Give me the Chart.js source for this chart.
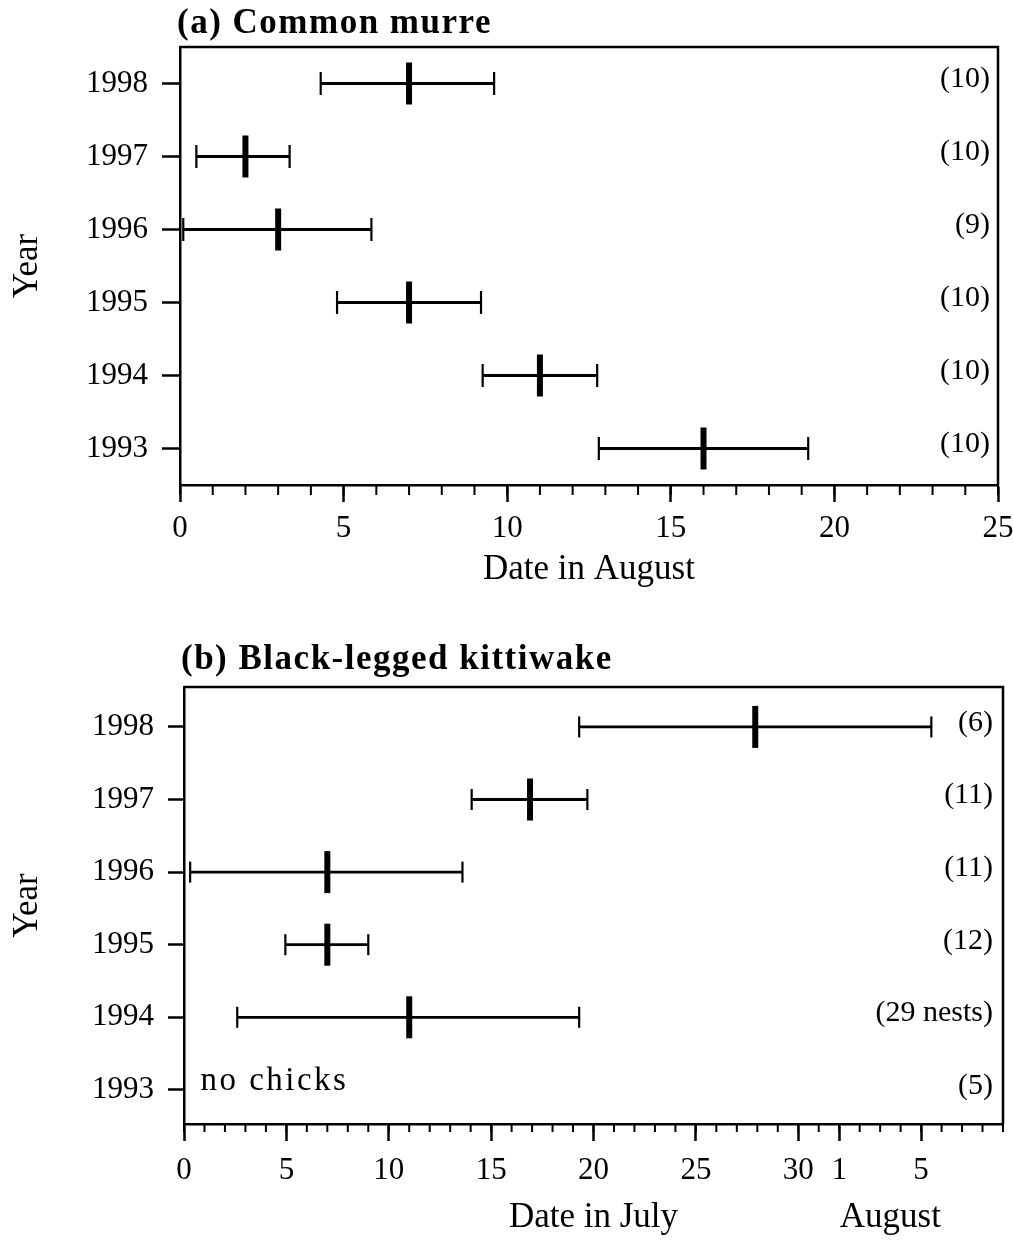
<!DOCTYPE html>
<html>
<head>
<meta charset="utf-8">
<script src="https://cdn.jsdelivr.net/npm/chart.js@4.4.1/dist/chart.umd.min.js"></script>
<style>
  html, body { margin: 0; padding: 0; background: #fff; }
  canvas { display: block; }
</style>
</head>
<body>
<canvas id="murre" width="1013" height="620"></canvas>
<canvas id="kitti" width="1013" height="620"></canvas>
<script>
const years = [1998, 1997, 1996, 1995, 1994, 1993];

// (a) common murre, date in August
const murreMean = [7, 2, 3, 7, 11, 16];
const murreLow  = [4.3, 0.5, 0.1, 4.8, 9.25, 12.8];
const murreHigh = [9.6, 3.35, 5.85, 9.2, 12.75, 19.2];
const murreN    = ['(10)', '(10)', '(9)', '(10)', '(10)', '(10)'];
const murreTicks = [0, 5, 10, 15, 20, 25];

// (b) kittiwake, day counted from 1 July (32 = 1 Aug), no chicks in 1993
const kittiYears = [1998, 1997, 1996, 1995, 1994];
const kittiMean = [27.9, 16.9, 7, 7, 11];
const kittiLow  = [19.3, 14.05, 0.3, 4.95, 2.6];
const kittiHigh = [36.5, 19.7, 13.6, 9, 19.3];
const kittiN    = ['(6)', '(11)', '(11)', '(12)', '(29 nests)', '(5)'];
const kittiTicks = [0, 5, 10, 15, 20, 25, 30, 32, 36];
const kittiTickLabels = ['0', '5', '10', '15', '20', '25', '30', '1', '5'];

const SERIF = "'Liberation Serif', 'Times New Roman', serif";
Chart.defaults.font.family = SERIF;
Chart.defaults.color = '#000';

// frame, minor ticks and all the loose text
const extras = {
  id: 'extras',
  afterDraw(chart, args, opts) {
    const { ctx, chartArea: a, scales: { x, y } } = chart;
    ctx.save();
    ctx.strokeStyle = '#000';
    ctx.fillStyle = '#000';
    ctx.lineWidth = 2.5;
    ctx.beginPath();
    ctx.moveTo(a.left, a.top);
    ctx.lineTo(a.right, a.top);
    ctx.lineTo(a.right, a.bottom);
    ctx.stroke();

    ctx.lineWidth = 2;
    for (let v = x.min; v <= x.max; v++) {
      const px = x.getPixelForValue(v);
      ctx.beginPath();
      ctx.moveTo(px, a.bottom);
      ctx.lineTo(px, a.bottom + opts.minorLen);
      ctx.stroke();
    }

    ctx.font = 'bold 35px ' + SERIF;
    ctx.letterSpacing = '1.5px';
    ctx.textAlign = 'left';
    ctx.textBaseline = 'alphabetic';
    ctx.fillText(opts.title, a.left - 3, a.top - opts.titleGap);
    ctx.letterSpacing = '0px';

    ctx.font = '30px ' + SERIF;
    ctx.textAlign = 'right';
    ctx.textBaseline = 'middle';
    opts.counts.forEach((t, i) => {
      ctx.fillText(t, a.right - opts.countInset, y.getPixelForValue(years[i]) - 4);
    });

    (opts.notes || []).forEach(n => {
      ctx.font = n.size + 'px ' + SERIF;
      ctx.letterSpacing = (n.spacing || 0) + 'px';
      ctx.textAlign = n.align;
      ctx.textBaseline = n.baseline;
      const py = n.below != null ? a.bottom + n.below : y.getPixelForValue(n.y);
      ctx.fillText(n.text, x.getPixelForValue(n.x), py);
    });
    ctx.restore();
  }
};

function barSets(ys, lo, hi, mean, capR, meanR) {
  const sets = [{
    data: ys.map((yr, i) => ({ x: mean[i], y: yr })),
    showLine: false,
    pointStyle: 'line',
    pointRotation: 90,
    pointRadius: meanR,
    pointHoverRadius: meanR,
    pointBorderWidth: 6,
    pointBorderColor: '#000',
    clip: false
  }];
  ys.forEach((yr, i) => {
    sets.push({
      data: [{ x: lo[i], y: yr }, { x: hi[i], y: yr }],
      showLine: true,
      borderColor: '#000',
      borderWidth: 2.8,
      pointStyle: 'line',
      pointRotation: 90,
      pointRadius: capR,
      pointHoverRadius: capR,
      pointBorderWidth: 2.2,
      pointBorderColor: '#000',
      clip: false
    });
  });
  return sets;
}

function yAxis(min, max, width, tickLen) {
  return {
    type: 'linear',
    min: min,
    max: max,
    afterBuildTicks: s => { s.ticks = years.map(v => ({ value: v })); },
    afterFit: s => { s.width = width; s.paddingTop = 0; s.paddingBottom = 0; },
    ticks: { callback: v => String(v), font: { size: 31 }, color: '#000', padding: 14 },
    grid: { drawOnChartArea: false, tickLength: tickLen, tickWidth: 2.5, tickColor: '#000' },
    border: { color: '#000', width: 2.5 },
    title: { display: true, text: 'Year', font: { size: 35 }, color: '#000', padding: { top: 7, bottom: 0 } }
  };
}

new Chart(document.getElementById('murre'), {
  type: 'scatter',
  data: { datasets: barSets(years, murreLow, murreHigh, murreMean, 11.5, 21) },
  plugins: [extras],
  options: {
    responsive: false,
    animation: false,
    devicePixelRatio: 1,
    layout: { autoPadding: false, padding: { top: 47, right: 15, left: 0, bottom: 0 } },
    plugins: {
      legend: { display: false },
      tooltip: { enabled: false },
      extras: { title: '(a) Common murre', titleGap: 14, counts: murreN, countInset: 8, minorLen: 10 }
    },
    scales: {
      x: {
        type: 'linear',
        min: 0,
        max: 25,
        afterBuildTicks: s => { s.ticks = murreTicks.map(v => ({ value: v })); },
        afterFit: s => { s.height = 135; s.paddingLeft = 0; s.paddingRight = 0; },
        ticks: { font: { size: 31 }, color: '#000', padding: 8, maxRotation: 0, autoSkip: false },
        grid: { drawOnChartArea: false, tickLength: 17, tickWidth: 2.5, tickColor: '#000' },
        border: { color: '#000', width: 2.5 },
        title: { display: true, text: 'Date in August', font: { size: 35 }, color: '#000', padding: { top: 0, bottom: 29 } }
      },
      y: yAxis(1992.5, 1998.5, 180, 18)
    }
  }
});

new Chart(document.getElementById('kitti'), {
  type: 'scatter',
  data: { datasets: barSets(kittiYears, kittiLow, kittiHigh, kittiMean, 10.5, 21) },
  plugins: [extras],
  options: {
    responsive: false,
    animation: false,
    devicePixelRatio: 1,
    layout: { autoPadding: false, padding: { top: 67, right: 10, left: 0, bottom: 0 } },
    plugins: {
      legend: { display: false },
      tooltip: { enabled: false },
      extras: {
        title: '(b) Black-legged kittiwake', titleGap: 18, counts: kittiN, countInset: 10, minorLen: 8,
        notes: [
          { text: 'no chicks', x: 0.8, y: 1993, size: 33, spacing: 2.5, align: 'left', baseline: 'alphabetic' },
          { text: 'Date in July', x: 20, below: 94, size: 35, align: 'center', baseline: 'middle' },
          { text: 'August', x: 34.5, below: 94, size: 35, align: 'center', baseline: 'middle' }
        ]
      }
    },
    scales: {
      x: {
        type: 'linear',
        min: 0,
        max: 40,
        afterBuildTicks: s => { s.ticks = kittiTicks.map(v => ({ value: v })); },
        afterFit: s => { s.height = 116; s.paddingLeft = 0; s.paddingRight = 0; },
        ticks: {
          callback: (v, i) => kittiTickLabels[i],
          font: { size: 31 }, color: '#000', padding: 11, maxRotation: 0, autoSkip: false
        },
        grid: { drawOnChartArea: false, tickLength: 17, tickWidth: 2.5, tickColor: '#000' },
        border: { color: '#000', width: 2.5 }
      },
      y: yAxis(1992.53, 1998.55, 184, 16)
    }
  }
});
</script>
</body>
</html>
